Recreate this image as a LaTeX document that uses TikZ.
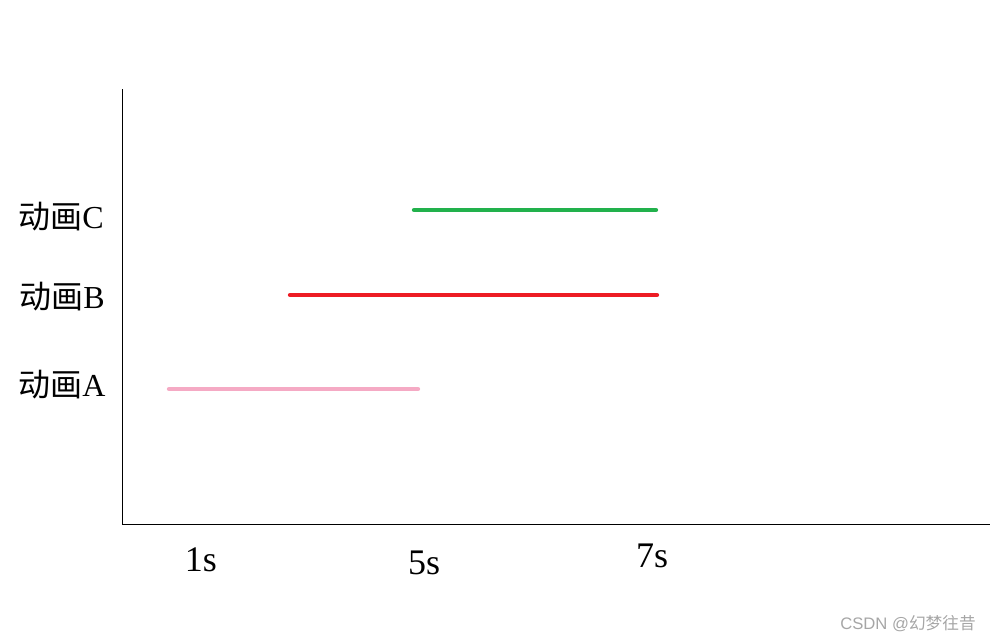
\documentclass[tikz,border=0pt]{standalone}
\usepackage{fontspec}
\setmainfont{Liberation Serif}
\newfontfamily\cjk{Noto Sans CJK SC}
\newfontfamily\wmfont{Liberation Sans}
\usetikzlibrary{positioning, calc}
\definecolor{barC}{RGB}{34,177,76}
\definecolor{barB}{RGB}{237,28,36}
\definecolor{barA}{RGB}{245,170,196}

\begin{document}
\begin{tikzpicture}[
    x=0.75pt, y=-0.75pt,
    % Styles
    axis/.style={draw=black, line width=0.7pt},
    bar/.style={line width=3.2pt, line cap=round},
    rowlbl/.style={font=\fontsize{24}{26}\selectfont, anchor=center, inner sep=0pt},
    ticklbl/.style={font=\fontsize{27}{29}\selectfont, anchor=center, inner sep=0pt},
    wmark/.style={font=\wmfont\fontsize{12.5}{14}\selectfont, text=gray!70, anchor=east, inner sep=0pt}
]
\useasboundingbox (0,0) rectangle (991,642);

% 1. AXES
\coordinate (origin) at (122,524);
\coordinate (ytop) at (122,89);
\coordinate (xend) at (990,524);
\draw[axis] (ytop) -- (origin) -- (xend);

% 2. ROW LABELS
\node[rowlbl] (lblC) at (61,217) {{\cjk 动画}C};
\node[rowlbl] (lblB) at (62,297) {{\cjk 动画}B};
\node[rowlbl] (lblA) at (62,385) {{\cjk 动画}A};

% 3. TICK LABELS
\node[ticklbl] (t1) at (201,560) {1s};
\node[ticklbl] (t5) at (424,563) {5s};
\node[ticklbl] (t7) at (652,556) {7s};

% 4. BARS
\coordinate (cStart) at (414,210);
\coordinate (cEnd) at (656,210);
\coordinate (bStart) at (290,295);
\coordinate (bEnd) at (657,295);
\coordinate (aStart) at (169,389);
\coordinate (aEnd) at (418,389);
\draw[bar, barC] (cStart) -- (cEnd);
\draw[bar, barB] (bStart) -- (bEnd);
\draw[bar, barA] (aStart) -- (aEnd);

% WATERMARK
\node[wmark] (wm) at (976,624) {CSDN @{\cjk 幻梦往昔}};

\end{tikzpicture}
\end{document}
